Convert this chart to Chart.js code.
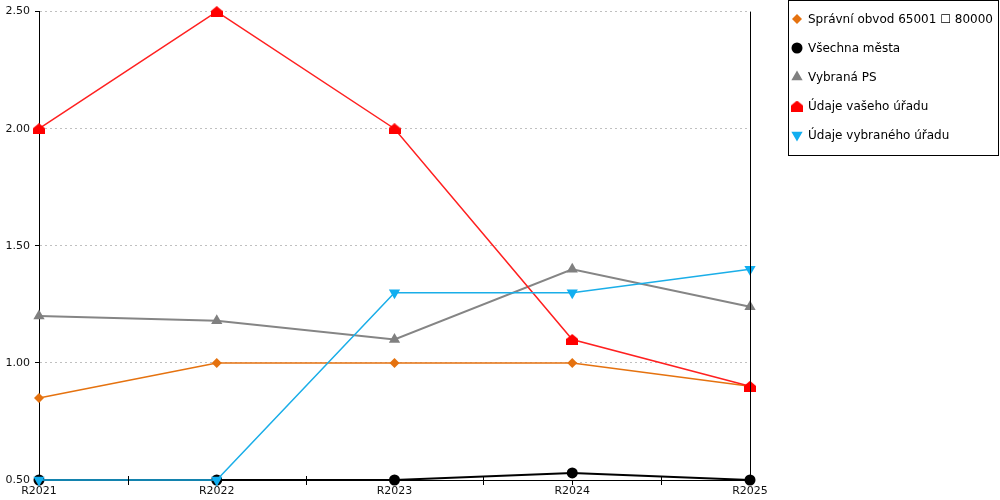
<!DOCTYPE html>
<html>
<head>
<meta charset="utf-8">
<script src="https://cdn.jsdelivr.net/npm/chart.js@4/dist/chart.umd.min.js"></script>
<style>
html,body{margin:0;padding:0;background:#fff;}
#wrap{width:1000px;height:500px;position:relative;}
</style>
</head>
<body>
<div id="wrap"><canvas id="c" width="1000" height="500"></canvas></div>
<script>
const categories = ["R2021", "R2022", "R2023", "R2024", "R2025"];
const obvodValues = [0.85, 1.00, 1.00, 1.00, 0.90];
const mestaValues = [0.50, 0.50, 0.50, 0.53, 0.50];
const psValues = [1.20, 1.18, 1.10, 1.40, 1.24];
const vasUradValues = [2.00, 2.50, 2.00, 1.10, 0.90];
const vybranyUradValues = [0.50, 0.50, 1.30, 1.30, 1.40];
const yTicks = [0.5, 1.0, 1.5, 2.0, 2.5];
const seriesLabels = ["Správní obvod 65001 \u2610 80000", "Všechna města", "Vybraná PS", "Údaje vašeho úřadu", "Údaje vybraného úřadu"];

const FONT = "'DejaVu Sans', Verdana, sans-serif";

function houseCanvas(color, w, h) {
  const c = document.createElement('canvas');
  c.width = w; c.height = h;
  const g = c.getContext('2d');
  g.fillStyle = color;
  g.beginPath();
  g.moveTo(w / 2, 0);
  g.lineTo(w, h * 0.45);
  g.lineTo(w, h);
  g.lineTo(0, h);
  g.lineTo(0, h * 0.45);
  g.closePath();
  g.fill();
  return c;
}
const house = houseCanvas('#ff0000', 12, 11);

const datasets = [
  {label: seriesLabels[0], data: obvodValues, borderColor: '#e5720f', backgroundColor: '#e5720f', pointStyle: 'rectRot', pointRadius: 5, borderWidth: 1.5, order: 5},
  {label: seriesLabels[1], data: mestaValues, borderColor: '#000000', backgroundColor: '#000000', pointStyle: 'circle', pointRadius: 5.5, borderWidth: 2, order: 4},
  {label: seriesLabels[2], data: psValues, borderColor: '#858585', backgroundColor: '#808080', pointStyle: 'triangle', pointRadius: 6.5, borderWidth: 2, order: 3},
  {label: seriesLabels[3], data: vasUradValues, borderColor: '#ff2020', backgroundColor: '#ff0000', pointStyle: house, pointRadius: 6, borderWidth: 1.5, order: 2},
  {label: seriesLabels[4], data: vybranyUradValues, borderColor: '#1aaee8', backgroundColor: '#11aef0', pointStyle: 'triangle', pointRotation: 180, pointRadius: 6.5, borderWidth: 1.5, order: 1}
];
datasets.forEach(d => { d.pointBorderWidth = 0; d.pointHoverRadius = d.pointRadius; d.tension = 0; d.fill = false; d.clip = false; });

const extras = {
  id: 'extras',
  afterDraw(chart) {
    const ctx = chart.ctx;
    const a = chart.chartArea;
    const xs = chart.scales.x;
    ctx.save();
    ctx.strokeStyle = '#000';
    ctx.lineWidth = 1;
    ctx.beginPath();
    ctx.moveTo(Math.round(a.right) + 0.5, a.top);
    ctx.lineTo(Math.round(a.right) + 0.5, a.bottom);
    ctx.stroke();
    for (let i = 0; i < categories.length - 1; i++) {
      const px = Math.round(xs.getPixelForValue(i + 0.5)) + 0.5;
      ctx.beginPath();
      ctx.moveTo(px, a.bottom - 4);
      ctx.lineTo(px, a.bottom + 5);
      ctx.stroke();
    }
    const lx = 788.5, ly = 0.5, lw = 210, lh = 155;
    ctx.fillStyle = '#fff';
    ctx.fillRect(lx, ly, lw, lh);
    ctx.strokeStyle = '#000';
    ctx.strokeRect(lx, ly, lw, lh);
    ctx.font = '12px ' + FONT;
    ctx.textBaseline = 'middle';
    ctx.textAlign = 'left';
    chart.data.datasets.forEach((d, i) => {
      const y = 19 + i * 29;
      ctx.fillStyle = d.backgroundColor;
      Chart.helpers.drawPoint(ctx, {pointStyle: d.pointStyle, rotation: d.pointRotation || 0, radius: d.pointRadius, borderWidth: 0}, 797, y);
      ctx.fillStyle = '#000';
      ctx.fillText(d.label, 808, y + 1);
    });
    ctx.restore();
  }
};

new Chart(document.getElementById('c'), {
  type: 'line',
  data: {labels: categories, datasets: datasets},
  options: {
    responsive: false,
    animation: false,
    devicePixelRatio: 1,
    layout: {padding: {top: 11, right: 250, left: 0, bottom: 0}},
    plugins: {legend: {display: false}, tooltip: {enabled: false}},
    scales: {
      x: {
        type: 'category',
        offset: false,
        grid: {display: true, drawOnChartArea: false, drawTicks: true, tickLength: 5, tickColor: '#000', color: '#000', offset: false},
        border: {display: true, color: '#000', width: 1},
        ticks: {color: '#111', font: {family: FONT, size: 11}, padding: 0, maxRotation: 0, autoSkip: false},
        afterFit(s) { s.height = 20; }
      },
      y: {
        min: 0.5, max: 2.5,
        afterBuildTicks(s) { s.ticks = yTicks.map(v => ({value: v})); },
        grid: {color: '#c0c0c0', tickColor: '#000', tickLength: 4, tickBorderDash: [], drawTicks: true},
        border: {display: true, color: '#000', width: 1, dash: [2, 3]},
        ticks: {color: '#111', font: {family: FONT, size: 11}, padding: 5, callback: v => Number(v).toFixed(2)},
        afterFit(s) { s.width = 39; }
      }
    }
  },
  plugins: [extras]
});
</script>
</body>
</html>
